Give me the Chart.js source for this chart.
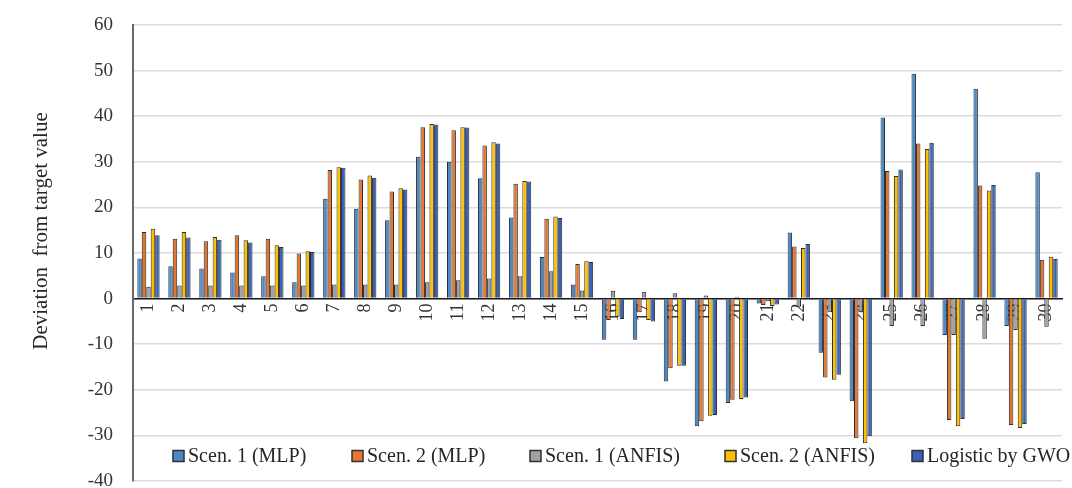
<!DOCTYPE html>
<html>
<head>
<meta charset="utf-8">
<script src="https://cdn.jsdelivr.net/npm/chart.js@4.4.0/dist/chart.umd.min.js"></script>
<style>
  html, body { margin: 0; padding: 0; background: #ffffff; }
  #wrap { width: 1072px; height: 488px; position: relative; }
</style>
</head>
<body>
<div id="wrap"><canvas id="c"></canvas></div>
<script>
const categories = ['1','2','3','4','5','6','7','8','9','10','11','12','13','14','15',
  '16','17','18','19','20','21','22','23','24','25','26','27','28','29','30'];

const scen1MLP = [8.8, 7.1, 6.6, 5.7, 4.9, 3.6, 21.9, 19.7, 17.2, 31.1, 30.0, 26.4, 17.8, 9.1, 3.1,
  -9.0, -9.0, -18.2, -28.0, -22.9, -1.1, 14.5, -11.9, -22.5, 39.7, 49.3, -8.0, 46.0, -6.0, 27.7];
const scen2MLP = [14.6, 13.1, 12.6, 13.9, 13.1, 9.9, 28.2, 26.1, 23.5, 37.6, 36.9, 33.6, 25.2, 17.5, 7.6,
  -4.7, -3.0, -15.3, -26.9, -22.2, -1.4, 11.4, -17.3, -30.6, 28.0, 34.0, -26.6, 24.8, -27.7, 8.5];
const scen1ANFIS = [2.6, 2.9, 2.9, 2.9, 2.9, 2.9, 3.1, 3.1, 3.1, 3.6, 4.0, 4.4, 4.9, 6.0, 1.8,
  1.7, 1.5, 1.2, 0.7, 0.4, -0.6, -1.8, -3.0, -3.0, -6.0, -6.0, -8.0, -8.8, -6.9, -6.2];
const scen2ANFIS = [15.3, 14.6, 13.5, 12.8, 11.7, 10.4, 28.8, 27.0, 24.2, 38.3, 37.6, 34.3, 25.8, 18.0, 8.2,
  -4.0, -4.7, -14.7, -25.7, -22.0, -1.6, 11.1, -17.8, -31.7, 26.9, 32.8, -28.0, 23.7, -28.4, 9.2];
const logisticGWO = [13.9, 13.4, 12.9, 12.3, 11.3, 10.2, 28.7, 26.5, 23.9, 38.2, 37.5, 34.0, 25.7, 17.7, 8.0,
  -4.5, -5.0, -14.7, -25.5, -21.7, -1.3, 12.0, -16.7, -30.2, 28.3, 34.2, -26.4, 24.9, -27.5, 8.7];

const seriesNames = ['Scen. 1 (MLP)', 'Scen. 2 (MLP)', 'Scen. 1 (ANFIS)', 'Scen. 2 (ANFIS)', 'Logistic by GWO'];
const yTicks = [60, 50, 40, 30, 20, 10, 0, -10, -20, -30, -40];
const yTitle = 'Deviation  from target value';

const colors = ['#4A8ACB', '#E57630', '#A0A0A0', '#FFC000', '#3762B5'];
const seriesValues = [scen1MLP, scen2MLP, scen1ANFIS, scen2ANFIS, logisticGWO];

const datasets = seriesValues.map((vals, i) => ({
  label: seriesNames[i],
  data: vals,
  backgroundColor: colors[i],
  borderColor: '#2e2e2e',
  borderWidth: 1,
  categoryPercentage: 0.72,
  barPercentage: 1.0
}));

const serif = '"Liberation Serif", "Times New Roman", serif';

const customText = {
  id: 'customText',
  afterDraw(chart) {
    const ctx = chart.ctx;
    // y-axis title
    ctx.save();
    ctx.translate(41, 231);
    ctx.rotate(-Math.PI / 2);
    ctx.font = '21px ' + serif;
    ctx.fillStyle = '#262626';
    ctx.textAlign = 'center';
    ctx.textBaseline = 'middle';
    ctx.fillText(yTitle, 0, 0);
    ctx.restore();
    // legend inside plot area
    const boxX = [173, 352, 530, 725, 912];
    const cy = 456;
    ctx.save();
    ctx.font = '20px ' + serif;
    ctx.textBaseline = 'middle';
    ctx.textAlign = 'left';
    chart.data.datasets.forEach((ds, i) => {
      const x = boxX[i];
      ctx.fillStyle = ds.backgroundColor;
      ctx.fillRect(x, cy - 5.5, 11, 11);
      ctx.strokeStyle = '#303030';
      ctx.lineWidth = 1.5;
      ctx.strokeRect(x, cy - 5.5, 11, 11);
      ctx.fillStyle = '#262626';
      ctx.fillText(ds.label, x + 15, cy + 1);
    });
    ctx.restore();
  }
};

new Chart(document.getElementById('c'), {
  type: 'bar',
  data: { labels: categories, datasets },
  plugins: [customText],
  options: {
    responsive: true,
    maintainAspectRatio: false,
    animation: false,
    layout: { padding: { top: 25, bottom: 7, right: 10, left: 0 } },
    plugins: {
      legend: { display: false },
      tooltip: { enabled: false }
    },
    scales: {
      x: {
        position: { y: 0 },
        afterFit: (scale) => {
          scale.height = 0;
          scale.paddingLeft = 0; scale.paddingRight = 0;
          scale.paddingTop = 0; scale.paddingBottom = 0;
        },
        grid: { color: 'rgba(0,0,0,0)', drawTicks: false },
        border: { display: true, color: '#1a1a1a', width: 1.5 },
        ticks: {
          autoSkip: false,
          minRotation: 90,
          maxRotation: 90,
          padding: 5,
          color: '#333333',
          font: { family: serif, size: 18 }
        }
      },
      y: {
        min: -40,
        max: 60,
        afterFit: (scale) => {
          scale.width = 133;
          scale.paddingTop = 0; scale.paddingBottom = 0;
        },
        afterBuildTicks: (scale) => { scale.ticks = yTicks.map(v => ({ value: v })); },
        grid: { color: '#DCDCDC', lineWidth: 1.5, drawTicks: false },
        border: { display: true, color: '#6a6a6a', width: 2 },
        ticks: {
          padding: 20,
          color: '#333333',
          font: { family: serif, size: 19 }
        }
      }
    }
  }
});
</script>
</body>
</html>
